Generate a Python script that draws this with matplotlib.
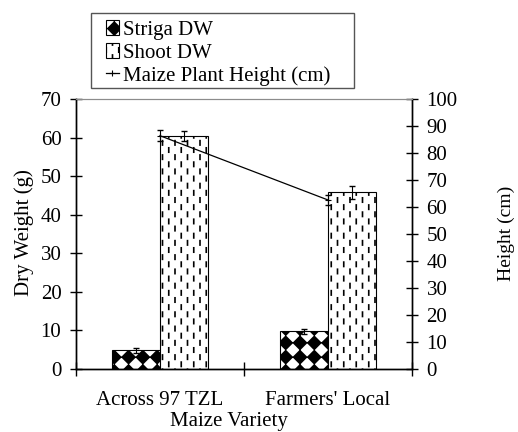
#!/usr/bin/env python3

import matplotlib
matplotlib.use("Agg")
import matplotlib.hatch as mhatch
import matplotlib.pyplot as plt
import numpy as np
from matplotlib.patches import Rectangle
from matplotlib.path import Path

# Dry weight (g) and plant height (cm) per maize variety
varieties = ["Across 97 TZL", "Farmers' Local"]
striga_dw = [4.8, 9.8]
striga_err = [0.6, 0.7]
shoot_dw = [60.4, 45.8]
shoot_err = [1.3, 1.6]
plant_height = [86.4, 62.6]
height_err = [2.1, 1.8]


class DiamondHatch(mhatch.HatchPatternBase):
    """Filled diamonds on a square grid (hatch char 'O')."""
    per_unit = 7

    def __init__(self, hatch, density):
        self.num_rows = self.per_unit * hatch.count("O")
        self.num_vertices = 5 * (self.num_rows + 1) ** 2 if self.num_rows else 0

    def set_vertices_and_codes(self, vertices, codes):
        step = 1.0 / self.num_rows
        half = 0.45 * step
        shape = np.array([[half, 0], [0, half], [-half, 0], [0, -half], [half, 0]])
        shape_codes = [Path.MOVETO, Path.LINETO, Path.LINETO, Path.LINETO, Path.CLOSEPOLY]
        grid = np.linspace(0, 1, self.num_rows + 1)
        parts = [shape + [x, y] for y in grid for x in grid]
        vertices[:] = np.concatenate(parts)
        codes[:] = np.tile(shape_codes, len(parts))


class DashHatch(mhatch.HatchPatternBase):
    """Short vertical dashes in staggered rows (hatch char '|')."""
    cols = 8
    rows = 14

    def __init__(self, hatch, density):
        n = hatch.count("|")
        self.num_vertices = 2 * (self.cols + 1) * (self.rows + 1) if n else 0

    def set_vertices_and_codes(self, vertices, codes):
        dx = 1.0 / self.cols
        dy = 1.0 / self.rows
        half_len = 0.022
        pts = []
        for r in range(self.rows + 1):
            shift = 0 if r % 2 == 0 else dx / 2
            for c in range(self.cols + 1):
                x = c * dx + shift
                y = r * dy
                pts += [[x, y - half_len], [x, y + half_len]]
        vertices[:] = np.array(pts)
        codes[:] = np.tile([Path.MOVETO, Path.LINETO], len(pts) // 2)


mhatch._hatch_types[:] = [DiamondHatch, DashHatch]

plt.rcParams["font.family"] = ["Liberation Serif", "DejaVu Serif"]
plt.rcParams["font.size"] = 15
plt.rcParams["hatch.linewidth"] = 1.2
plt.rcParams["hatch.color"] = "black"

W, H = 518, 432
fig = plt.figure(figsize=(W / 100, H / 100), dpi=100)
ax = fig.add_axes([76 / W, 1 - 369 / H, 336 / W, 270 / H])
ax2 = ax.twinx()

x = np.arange(len(varieties))
width = 0.287

b1 = ax.bar(x - width, striga_dw, width, align="edge", color="white",
            edgecolor="black", linewidth=0.8, hatch="O", label="Striga DW")
b2 = ax.bar(x, shoot_dw, width, align="edge", color="white",
            edgecolor="black", linewidth=0.8, hatch="|", label="Shoot DW")
ax.errorbar(x - width / 2, striga_dw, yerr=striga_err, fmt="none",
            ecolor="black", elinewidth=0.8, capsize=2)
ax.errorbar(x + width / 2, shoot_dw, yerr=shoot_err, fmt="none",
            ecolor="black", elinewidth=0.8, capsize=2)

line, = ax2.plot(x, plant_height, color="black", linewidth=0.9, marker="+",
                 markersize=5, markeredgewidth=0.8, label="Maize Plant Height (cm)")
ax2.errorbar(x, plant_height, yerr=height_err, fmt="none",
             ecolor="black", elinewidth=0.8, capsize=2)

# Axes limits and ticks
ax.set_xlim(-0.5, 1.5)
ax.set_ylim(0, 70)
ax.set_yticks(np.arange(0, 71, 10))
ax2.set_ylim(0, 100)
ax2.set_yticks(np.arange(0, 101, 10))

ax.set_xticks(x)
ax.set_xticklabels(varieties)
ax.set_xticks([-0.5, 0.5, 1.5], minor=True)
ax.tick_params(axis="x", which="major", length=0, pad=16)
ax.tick_params(axis="x", which="minor", direction="inout", length=10, width=1)
ax.tick_params(axis="y", direction="inout", length=9, width=1, pad=6)
ax2.tick_params(axis="y", direction="inout", length=9, width=1, pad=6)

for a in (ax, ax2):
    a.spines["top"].set_color("#8c8c8c")
    for s in ("left", "right", "bottom"):
        a.spines[s].set_linewidth(1)

ax.set_xlabel("Maize Variety")
ax.xaxis.set_label_coords(0.455, -0.158)
ax.set_ylabel("Dry Weight (g)")
ax.yaxis.set_label_coords(-0.125, 0.504)
ax2.set_ylabel("Height (cm)", fontsize=14)
ax2.yaxis.set_label_coords(1.256, 0.504)

# Legend box drawn separately so the padding can be wider than tall
fig.patches.append(Rectangle((91 / W, 1 - 88 / H), 263 / W, 75 / H,
                             transform=fig.transFigure, facecolor="white",
                             edgecolor="#555555", linewidth=1, zorder=0))
fig.legend(handles=[b1, b2, line], loc="upper left",
           bbox_to_anchor=(106 / W, 1 - 20 / H), bbox_transform=fig.transFigure,
           borderaxespad=0, frameon=False, fontsize=15, handlelength=0.62,
           handletextpad=0.2, labelspacing=0.16, borderpad=0)

plt.savefig("out.png", dpi=100)
